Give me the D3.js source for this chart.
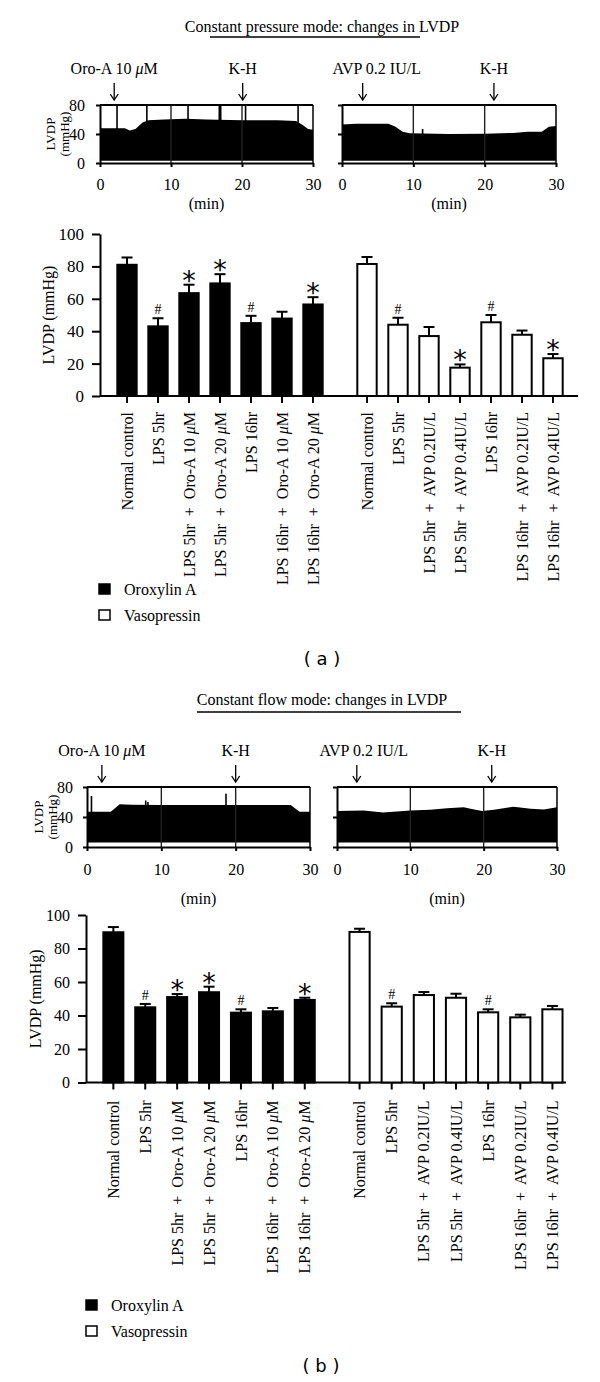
<!DOCTYPE html>
<html><head><meta charset="utf-8">
<script src="https://cdn.jsdelivr.net/npm/d3@7"></script>
<style>
body{margin:0;background:#fff;}
svg{display:block;}
text{fill:#000;white-space:pre;}
</style></head><body>
<svg id="c" width="600" height="1382" font-family="Liberation Serif, Times New Roman, serif"></svg>
<script>
// ---------------- DATA ----------------
const oroCategories = ["Normal control","LPS 5hr","LPS 5hr  +  Oro-A 10 μM","LPS 5hr  +  Oro-A 20 μM","LPS 16hr","LPS 16hr  +  Oro-A 10 μM","LPS 16hr  +  Oro-A 20 μM"];
const avpCategories = ["Normal control","LPS 5hr","LPS 5hr  +  AVP 0.2IU/L","LPS 5hr  +  AVP 0.4IU/L","LPS 16hr","LPS 16hr  +  AVP 0.2IU/L","LPS 16hr  +  AVP 0.4IU/L"];

const pressureOroMean = [81, 43, 63.5, 69.5, 45, 47.8, 56.5];
const pressureOroErr  = [4.5, 5, 5.2, 5.7, 4.5, 4.2, 4.5];
const pressureAvpMean = [81.5, 44, 37, 17.5, 45.5, 37.8, 23.3];
const pressureAvpErr  = [4.3, 4.3, 5.6, 2, 4.5, 2.6, 2.6];
const pressureOroMarks = ["", "#", "*", "*", "#", "", "*"];
const pressureAvpMarks = ["", "#", "", "*", "#", "", "*"];

const flowOroMean = [89.7, 44.9, 51, 53.9, 41.7, 42.5, 49.3];
const flowOroErr  = [3.1, 2, 1.8, 3.3, 2, 2, 1.3];
const flowAvpMean = [89.9, 45.3, 52.2, 50.6, 41.9, 38.9, 43.7];
const flowAvpErr  = [1.9, 2, 1.8, 2.4, 1.8, 1.6, 2];
const flowOroMarks = ["", "#", "*", "*", "#", "", "*"];
const flowAvpMarks = ["", "#", "", "", "#", "", ""];

const barTicks = [0, 20, 40, 60, 80, 100];
const traceYTicks = [0, 40, 80];
const traceXTicks = [0, 10, 20, 30];
const traceGridTimes = [10, 20];

// LVDP trace envelopes [min, mmHg]
const pressureOroTrace = [[0,48],[3.5,48],[4.2,45],[5,47],[6,56],[6.8,59],[9,60],[12,61],[15,60],[20,59],[25,59],[27.6,58],[28.6,52],[29.3,47],[30,46]];
const pressureAvpTrace = [[0,53],[2,54],[6.5,54],[7.5,50],[8.5,43],[9.5,41],[15,40],[20,40.5],[24,41.5],[26,43],[28,43],[29,50],[30,51]];
const flowOroTrace = [[0,47],[3.2,47],[4.4,57],[6,56.5],[10,56],[20,56],[27.4,56],[28.6,47],[30,47]];
const flowAvpTrace = [[0,48],[3.6,48.7],[6.3,46],[10,48.7],[12.7,49.6],[15,51.6],[17.3,53],[18.2,51],[19.8,48],[21.4,49.6],[24.1,53.8],[26.4,51],[28.2,50],[30,53]];
const pressureBaseline = 3;
const flowBaseline = 6;
const pressureOroSpikes = [[2.4,80],[6.6,80],[12.4,80],[16.8,80],[17.0,80],[20.5,80],[27.9,80]];
const pressureAvpSpikes = [[11.3,47]];
const flowOroSpikes = [[0.6,68],[7.9,62],[8.2,60],[18.7,71]];
const flowAvpSpikes = [];

const pressureOroArrows = [{label:"Oro-A 10 μM", t:2.0},{label:"K-H", t:20.1}];
const pressureAvpArrows = [{label:"AVP 0.2 IU/L", t:2.9},{label:"K-H", t:21.3}];
const flowOroArrows = [{label:"Oro-A 10 μM", t:2.0},{label:"K-H", t:20.0}];
const flowAvpArrows = [{label:"AVP 0.2 IU/L", t:2.7},{label:"K-H", t:21.1}];

const legendItems = [{label:"Oroxylin A", fill:"#000"},{label:"Vasopressin", fill:"#fff"}];

// ---------------- HELPERS ----------------
const svg = d3.select("#c");
const SERIF = "Liberation Serif, Times New Roman, serif";
const SANS = "DejaVu Sans, Verdana, sans-serif";

function setMuText(sel, str) {
  sel.text(null);
  const parts = str.split("μ");
  parts.forEach((p, i) => {
    if (i > 0) sel.append("tspan").style("font-style", "italic").text("μ");
    if (p.length) sel.append("tspan").text(p);
  });
}

function drawTrace(cfg) {
  const g = svg.append("g");
  const x = d3.scaleLinear().domain([0, 30]).range(cfg.xRange);
  const y = d3.scaleLinear().domain([0, 80]).range(cfg.yRange);
  const area = d3.area().x(d => x(d[0])).y0(y(cfg.baseline)).y1(d => y(d[1]));
  g.append("path").datum(cfg.data).attr("d", area).attr("fill", "#000");
  g.selectAll("line.grid").data(traceGridTimes).enter().append("line")
    .attr("x1", d => x(d)).attr("x2", d => x(d))
    .attr("y1", y(0)).attr("y2", y(80))
    .attr("stroke", "#222").attr("stroke-width", 1.4);
  g.selectAll("line.spike").data(cfg.spikes).enter().append("line")
    .attr("x1", d => x(d[0])).attr("x2", d => x(d[0]))
    .attr("y1", y(40)).attr("y2", d => y(d[1]))
    .attr("stroke", "#000").attr("stroke-width", 1.6);
  const yAx = d3.axisLeft(y).tickValues(traceYTicks).tickSize(4).tickSizeOuter(0)
    .tickPadding(cfg.yPad).tickFormat(cfg.showY ? d3.format("d") : () => "");
  const ya = g.append("g").attr("transform", `translate(${cfg.xRange[0]},0)`).call(yAx);
  const xAx = d3.axisBottom(x).tickValues(traceXTicks).tickSize(4).tickSizeOuter(0).tickPadding(cfg.xPad);
  const xa = g.append("g").attr("transform", `translate(0,${y(0)})`).call(xAx);
  [ya, xa].forEach(a => {
    a.attr("font-family", null).attr("font-size", null);
    a.selectAll("path,line").attr("stroke", "#000").attr("stroke-width", 2);
    a.selectAll("text").style("font-size", cfg.tickFont + "px").style("font-family", SERIF);
  });
  g.append("line").attr("x1", x(0)).attr("x2", x(30)).attr("y1", y(80)).attr("y2", y(80))
    .attr("stroke", "#000").attr("stroke-width", 2);
  g.append("line").attr("x1", x(30)).attr("x2", x(30)).attr("y1", y(80)).attr("y2", y(0))
    .attr("stroke", "#000").attr("stroke-width", 1.5);
  g.append("text").attr("x", (x(0) + x(30)) / 2).attr("y", cfg.minY)
    .attr("text-anchor", "middle").style("font-size", "16px").text("(min)");
  const top = y(80);
  cfg.arrows.forEach(a => {
    const ax = x(a.t);
    const shift = a.label.startsWith("AVP") ? cfg.avpShift : 0;
    const t = g.append("text").attr("x", ax + shift).attr("y", top - 31)
      .attr("text-anchor", "middle").style("font-size", "16px");
    setMuText(t, a.label);
    g.append("line").attr("x1", ax).attr("x2", ax).attr("y1", top - 22).attr("y2", top - 5)
      .attr("stroke", "#000").attr("stroke-width", 1.3);
    g.append("path").attr("d", `M${ax - 4},${top - 11}L${ax},${top - 5}L${ax + 4},${top - 11}`)
      .attr("fill", "none").attr("stroke", "#000").attr("stroke-width", 1.3);
  });
  if (cfg.showY) {
    const cy = (y(0) + y(80)) / 2;
    [["LVDP", cfg.labX[0]], ["(mmHg)", cfg.labX[1]]].forEach(([s, lx]) => {
      g.append("text").attr("transform", `translate(${lx},${cy}) rotate(-90)`)
        .attr("text-anchor", "middle").attr("dy", "0.35em").style("font-size", "13px").text(s);
    });
  }
}

function drawBars(cfg) {
  const g = svg.append("g");
  const y = d3.scaleLinear().domain([0, 100]).range([cfg.y0, cfg.y100]);
  const groups = [
    {cats: oroCategories, mean: cfg.oroMean, err: cfg.oroErr, marks: cfg.oroMarks, range: cfg.leftRange, fill: "#000"},
    {cats: avpCategories, mean: cfg.avpMean, err: cfg.avpErr, marks: cfg.avpMarks, range: cfg.rightRange, fill: "#fff"}
  ];
  g.append("line").attr("x1", cfg.axisX).attr("x2", cfg.axisEnd).attr("y1", y(0)).attr("y2", y(0))
    .attr("stroke", "#000").attr("stroke-width", 2);
  groups.forEach(gr => {
    const x = d3.scaleBand().domain(gr.cats).range(gr.range).paddingInner(cfg.pad).paddingOuter(cfg.pad / 2);
    const rows = gr.cats.map((c, i) => ({c, m: gr.mean[i], e: gr.err[i], k: gr.marks[i]}));
    const bw = x.bandwidth();
    rows.forEach(r => {
      const cx = x(r.c) + bw / 2;
      g.append("line").attr("x1", cx).attr("x2", cx).attr("y1", y(r.m)).attr("y2", y(r.m + r.e))
        .attr("stroke", "#000").attr("stroke-width", 2);
      g.append("line").attr("x1", cx - 5.5).attr("x2", cx + 5.5).attr("y1", y(r.m + r.e)).attr("y2", y(r.m + r.e))
        .attr("stroke", "#000").attr("stroke-width", 2);
    });
    g.selectAll(null).data(rows).enter().append("rect")
      .attr("x", d => x(d.c) + 1).attr("width", bw - 2)
      .attr("y", d => y(d.m)).attr("height", d => y(0) - y(d.m))
      .attr("fill", gr.fill).attr("stroke", "#000").attr("stroke-width", 2);
    rows.filter(r => r.k).forEach(r => {
      const cx = x(r.c) + bw / 2;
      const yt = y(r.m + r.e);
      if (r.k === "*") {
        g.append("text").attr("x", cx).attr("y", yt + 5).attr("text-anchor", "middle")
          .style("font-family", SANS).style("font-size", "27px").text("*");
      } else {
        g.append("text").attr("x", cx).attr("y", yt - 4).attr("text-anchor", "middle")
          .style("font-size", "14px").text("#");
      }
    });
    const xa = g.append("g").attr("transform", `translate(0,${y(0)})`)
      .call(d3.axisBottom(x).tickSize(7).tickSizeOuter(0));
    xa.attr("font-family", null).attr("font-size", null);
    xa.select(".domain").remove();
    xa.selectAll("line").attr("stroke", "#000").attr("stroke-width", 2);
    xa.selectAll("text").each(function(d) {
      const t = d3.select(this);
      t.attr("transform", "rotate(-90)").attr("x", -cfg.labOff).attr("y", 0)
        .attr("dy", "0.35em").attr("text-anchor", "end")
        .style("font-size", "16px").style("font-family", SERIF);
      setMuText(t, d);
    });
  });
  const ya = g.append("g").attr("transform", `translate(${cfg.axisX},0)`)
    .call(d3.axisLeft(y).tickValues(barTicks).tickSize(8).tickSizeOuter(0).tickPadding(cfg.yPad));
  ya.attr("font-family", null).attr("font-size", null);
  ya.selectAll("path,line").attr("stroke", "#000").attr("stroke-width", 2);
  ya.selectAll("text").style("font-size", cfg.tickFont + "px").style("font-family", SERIF);
  g.append("text").attr("transform", `translate(${cfg.yLabX},${(y(0) + y(100)) / 2}) rotate(-90)`)
    .attr("text-anchor", "middle").attr("dy", "0.35em").style("font-size", "16px").text("LVDP (mmHg)");
  legendItems.forEach((l, i) => {
    const ly = cfg.legY + i * cfg.legStep;
    g.append("rect").attr("x", cfg.legX).attr("y", ly - 11).attr("width", 11).attr("height", 10)
      .attr("fill", l.fill).attr("stroke", "#000").attr("stroke-width", 1.5);
    g.append("text").attr("x", cfg.legX + 25).attr("y", ly).style("font-size", "16px").text(l.label);
  });
}

function drawTitle(txt, y, ux1, ux2, uy) {
  svg.append("text").attr("x", 322).attr("y", y).attr("text-anchor", "middle").style("font-size", "16px").text(txt);
  svg.append("line").attr("x1", ux1).attr("x2", ux2).attr("y1", uy).attr("y2", uy)
    .attr("stroke", "#000").attr("stroke-width", 1.5);
}

// ---------------- PANEL (a) ----------------
drawTitle("Constant pressure mode: changes in LVDP", 32, 210, 420, 37);
drawTrace({data: pressureOroTrace, baseline: pressureBaseline, spikes: pressureOroSpikes, arrows: pressureOroArrows,
  xRange: [100, 313], yRange: [163, 105], showY: true, yPad: 11, xPad: 12, tickFont: 16,
  minY: 209, avpShift: 14, labX: [50, 64]});
drawTrace({data: pressureAvpTrace, baseline: pressureBaseline, spikes: pressureAvpSpikes, arrows: pressureAvpArrows,
  xRange: [342, 556], yRange: [163, 105], showY: false, yPad: 11, xPad: 12, tickFont: 16,
  minY: 209, avpShift: 14, labX: [0, 0]});
drawBars({oroMean: pressureOroMean, oroErr: pressureOroErr, oroMarks: pressureOroMarks,
  avpMean: pressureAvpMean, avpErr: pressureAvpErr, avpMarks: pressureAvpMarks,
  y0: 396, y100: 234, axisX: 100, axisEnd: 578, leftRange: [111.5, 328.5], rightRange: [351.5, 568.5],
  pad: 0.31, labOff: 16, yPad: 8, tickFont: 17, yLabX: 48, legX: 99, legY: 595, legStep: 26});
svg.append("text").attr("x", 322).attr("y", 665).attr("text-anchor", "middle")
  .style("font-family", SANS).style("font-size", "18px").text("( a )");

// ---------------- PANEL (b) ----------------
drawTitle("Constant flow mode: changes in LVDP", 705, 197, 461, 712);
drawTrace({data: flowOroTrace, baseline: flowBaseline, spikes: flowOroSpikes, arrows: flowOroArrows,
  xRange: [87, 310], yRange: [847, 787], showY: true, yPad: 10, xPad: 13, tickFont: 16,
  minY: 904, avpShift: 7, labX: [38, 52]});
drawTrace({data: flowAvpTrace, baseline: flowBaseline, spikes: flowAvpSpikes, arrows: flowAvpArrows,
  xRange: [337, 557], yRange: [847, 787], showY: false, yPad: 10, xPad: 13, tickFont: 16,
  minY: 904, avpShift: 7, labX: [0, 0]});
drawBars({oroMean: flowOroMean, oroErr: flowOroErr, oroMarks: flowOroMarks,
  avpMean: flowAvpMean, avpErr: flowAvpErr, avpMarks: flowAvpMarks,
  y0: 1082.5, y100: 915, axisX: 86, axisEnd: 566, leftRange: [97.4, 320.7], rightRange: [343.5, 568.5],
  pad: 0.31, labOff: 18, yPad: 8, tickFont: 16, yLabX: 35, legX: 86, legY: 1311, legStep: 26});
svg.append("text").attr("x", 321).attr("y", 1372).attr("text-anchor", "middle")
  .style("font-family", SANS).style("font-size", "18px").text("( b )");
</script>
</body></html>
